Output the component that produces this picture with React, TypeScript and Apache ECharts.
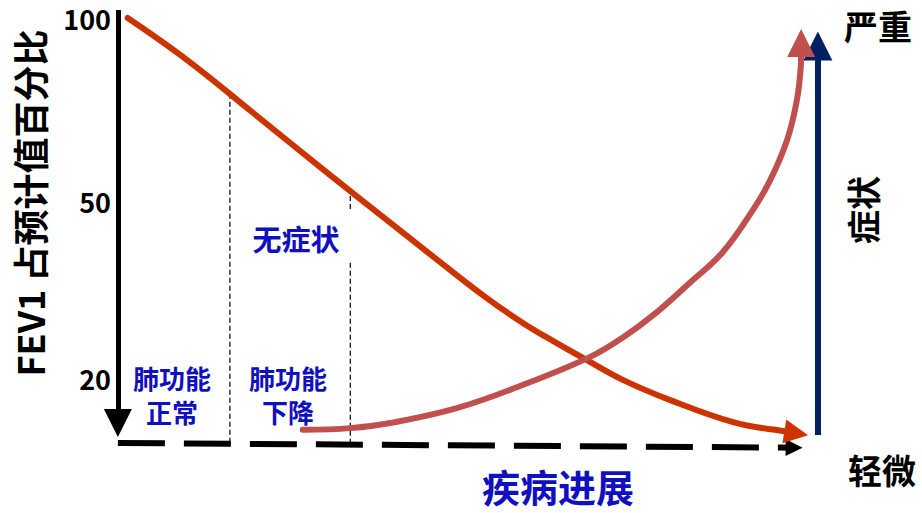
import { useEffect, useRef } from "react";
import * as echarts from "echarts";

// disease progression (x, 0-100) vs. chart height (y, 0-100)
const fevCurve: [number, number][] = [
  [1.1, 100], [9.6, 90.1], [19, 77.7], [28.6, 64.9], [38.1, 52.5],
  [45.7, 42.6], [52.4, 34.1], [57.6, 28.2], [62.4, 23.5], [66.7, 19.5],
  [71.9, 14.8], [78.6, 10.1], [87.6, 4.9], [93.6, 3.1],
];
const fevArrowEnd: [number, number] = [96.6, 2.3];

const symptomCurve: [number, number][] = [
  [26.1, 3.1], [32.9, 3.5], [38.6, 4.7], [48.1, 8.2], [57.6, 13.7],
  [67.1, 20.2], [71.9, 24.9], [76.7, 30.8], [81.4, 37.7], [86.1, 44.9],
  [90.4, 54.8], [92.9, 61.9], [95.3, 71.3], [96.7, 80.7], [97.3, 89.6],
];
const symptomArrowEnd: [number, number] = [97.3, 94.1];

// FEV1 axis tick labels and where they sit
const fevTickLabels = ["100", "50", "20"];
const fevTickPos = [100, 56.9, 15.1];

// stage boundaries (dashed verticals)
const stageX = [15.7, 32.9];
const stageTop = [82.2, 60];
const stageGap: [number, number] = [54.8, 42.4];

// axis arrows
const fevAxisArrow: [number, number][] = [[-0.3, 101.9], [-0.3, 4.7]];
const symptomAxisArrow: [number, number][] = [[99.7, 1.9], [99.7, 93.4]];
const progressArrow: [number, number][] = [[-0.3, 0], [96.3, -1.1]];

const RED = "#CC3300";
const PINK = "#C0504D";
const NAVY = "#002060";
const BLUE = "#1010C0";
const FONT = "Noto Sans CJK SC";

function arrowSeries(coords: [number, number][], color: string, width: number, size: number, dash?: number[]) {
  return {
    type: "lines",
    coordinateSystem: "cartesian2d",
    clip: false,
    silent: true,
    symbol: ["none", "triangle"],
    symbolSize: size,
    lineStyle: { color, width, opacity: 1, type: dash ?? "solid", cap: "butt" },
    data: [{ coords }],
  };
}

function dashedLine(points: [number, number][]) {
  return {
    type: "line",
    clip: false,
    silent: true,
    symbol: "none",
    lineStyle: { color: "#000", width: 1.2, type: [5, 3] },
    data: points,
  };
}

function label(text: string, x: number, y: number, size: number, fill: string, rotation = 0) {
  return {
    type: "text",
    x,
    y,
    rotation,
    style: {
      text,
      font: `bold ${size}px "${FONT}"`,
      fill,
      align: "center",
      verticalAlign: "middle",
    },
  };
}

export default function App() {
  const chartRef = useRef<HTMLDivElement>(null);

  useEffect(() => {
    if (!chartRef.current) return;
    const chart = echarts.init(chartRef.current, null, { renderer: "svg" });

    chart.setOption({
      animation: false,
      backgroundColor: "#fff",
      textStyle: { fontFamily: FONT },
      grid: { left: 120, right: 102, top: 18, bottom: 70 },
      xAxis: { type: "value", min: 0, max: 100, show: false },
      yAxis: {
        type: "value",
        min: 0,
        max: 100,
        axisLine: { show: false },
        axisTick: { show: false },
        splitLine: { show: false },
        axisLabel: {
          customValues: fevTickPos,
          formatter: (v: number) => fevTickLabels[fevTickPos.indexOf(v)] ?? "",
          fontSize: 27,
          fontWeight: "bold",
          color: "#000",
          fontFamily: FONT,
          margin: 9,
        },
      },
      graphic: [
        label("FEV1 占预计值百分比", 29, 203, 36, "#000", Math.PI / 2),
        label("症状", 862, 210, 34, "#000", Math.PI / 2),
        label("严重", 878, 25, 34, "#000"),
        label("轻微", 882, 469, 34, "#000"),
        label("疾病进展", 558, 485, 38, BLUE),
        label("无症状", 296, 238, 29, BLUE),
        label("肺功能", 172, 377, 26, BLUE),
        label("正常", 172, 411, 26, BLUE),
        label("肺功能", 288, 377, 26, BLUE),
        label("下降", 288, 411, 26, BLUE),
      ],
      series: [
        dashedLine([[stageX[0], stageTop[0]], [stageX[0], 0]]),
        dashedLine([[stageX[1], stageTop[1]], [stageX[1], stageGap[0]]]),
        dashedLine([[stageX[1], stageGap[1]], [stageX[1], 0]]),
        arrowSeries(fevAxisArrow, "#000", 5, 28),
        arrowSeries(progressArrow, "#000", 6, 17, [47, 19]),
        arrowSeries(symptomAxisArrow, NAVY, 6, 29),
        {
          type: "line",
          clip: false,
          silent: true,
          symbol: "none",
          smooth: 0.4,
          lineStyle: { color: RED, width: 6, cap: "round" },
          data: fevCurve,
        },
        arrowSeries([fevCurve[fevCurve.length - 1], fevArrowEnd], RED, 6, 24),
        {
          type: "line",
          clip: false,
          silent: true,
          symbol: "none",
          smooth: 0.4,
          lineStyle: { color: PINK, width: 6, cap: "round" },
          data: symptomCurve,
        },
        arrowSeries([symptomCurve[symptomCurve.length - 1], symptomArrowEnd], PINK, 6, 28),
      ],
    });

    return () => {
      chart.dispose();
    };
  }, []);

  return (
    <div
      ref={chartRef}
      style={{ position: "fixed", left: 0, top: 0, width: 922, height: 513 }}
    />
  );
}
